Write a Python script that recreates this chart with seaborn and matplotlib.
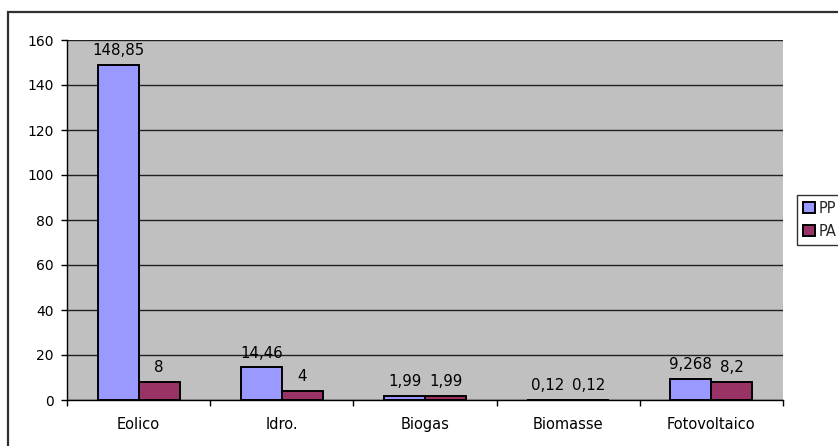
import matplotlib
matplotlib.use("Agg")
import matplotlib.pyplot as plt
from matplotlib.patches import Rectangle
from matplotlib.ticker import FixedLocator
import seaborn as sns
import pandas as pd

categories = ["Eolico", "Idro.", "Biogas", "Biomasse", "Fotovoltaico"]
pp_values = [148.85, 14.46, 1.99, 0.12, 9.268]
pa_values = [8, 4, 1.99, 0.12, 8.2]
series_names = ["PP", "PA"]
y_ticks = [0, 20, 40, 60, 80, 100, 120, 140, 160]

df = pd.DataFrame({
    "categoria": categories * 2,
    "valore": pp_values + pa_values,
    "serie": [series_names[0]] * len(categories) + [series_names[1]] * len(categories),
})

sns.set_theme(style="white")
plt.rcParams["font.family"] = ["DejaVu Sans"]

W, H = 838, 446
fig = plt.figure(figsize=(W / 100, H / 100), dpi=100)
fig.patch.set_facecolor("white")

# outer chart frame
fig.patches.append(Rectangle((8 / W, 0 - 0.05), 1.2, (H - 12) / H + 0.05,
                             transform=fig.transFigure, fill=False,
                             edgecolor="#303030", linewidth=1.6, clip_on=False))

ax = fig.add_axes([67 / W, (H - 400) / H, (783 - 67) / W, 360 / H])
ax.set_facecolor("#C0C0C0")

palette = {"PP": "#9999FF", "PA": "#993366"}
sns.barplot(data=df, x="categoria", y="valore", hue="serie", palette=palette,
            width=0.572, edgecolor="black", linewidth=1.4, saturation=1,
            ax=ax, legend=False, zorder=3)

ax.set_ylim(0, 160)
ax.set_xlim(-0.5, len(categories) - 0.5)
ax.set_yticks(y_ticks)
ax.yaxis.grid(True, color="#202020", linewidth=1, zorder=1)
ax.set_axisbelow(True)
ax.set_xlabel("")
ax.set_ylabel("")

for s in ["top", "right"]:
    ax.spines[s].set_visible(False)
for s in ["left", "bottom"]:
    ax.spines[s].set_color("black")
    ax.spines[s].set_linewidth(1)

ax.tick_params(axis="y", which="major", length=4.5, width=1, color="black",
               labelsize=10, labelcolor="black", pad=5, left=True)
ax.tick_params(axis="x", which="major", length=0, labelsize=10.5,
               labelcolor="black", pad=12)
ax.xaxis.set_minor_locator(FixedLocator([i - 0.5 for i in range(len(categories) + 1)]))
ax.tick_params(axis="x", which="minor", length=4.5, width=1, color="black",
               bottom=True)

# value labels above each bar
for container in ax.containers:
    for bar in container:
        v = bar.get_height()
        txt = f"{v:g}".replace(".", ",")
        ax.annotate(txt, (bar.get_x() + bar.get_width() / 2, v),
                    xytext=(0, 5), textcoords="offset points",
                    ha="center", va="bottom", fontsize=10.8, color="black",
                    annotation_clip=False)

handles = [Rectangle((0, 0), 1, 1, facecolor=palette[n], edgecolor="black",
                     linewidth=1.4) for n in series_names]
leg = fig.legend(handles, series_names, loc="upper left",
                 bbox_to_anchor=(797 / W, 1 - 195 / H), frameon=True,
                 fontsize=10.5, handlelength=0.8, handleheight=0.8,
                 handletextpad=0.3, borderpad=0.4, labelspacing=0.55,
                 borderaxespad=0, fancybox=False)
leg.get_frame().set_edgecolor("black")
leg.get_frame().set_linewidth(1)
leg.get_frame().set_facecolor("white")

fig.savefig("out.png", dpi=100, facecolor="white")
